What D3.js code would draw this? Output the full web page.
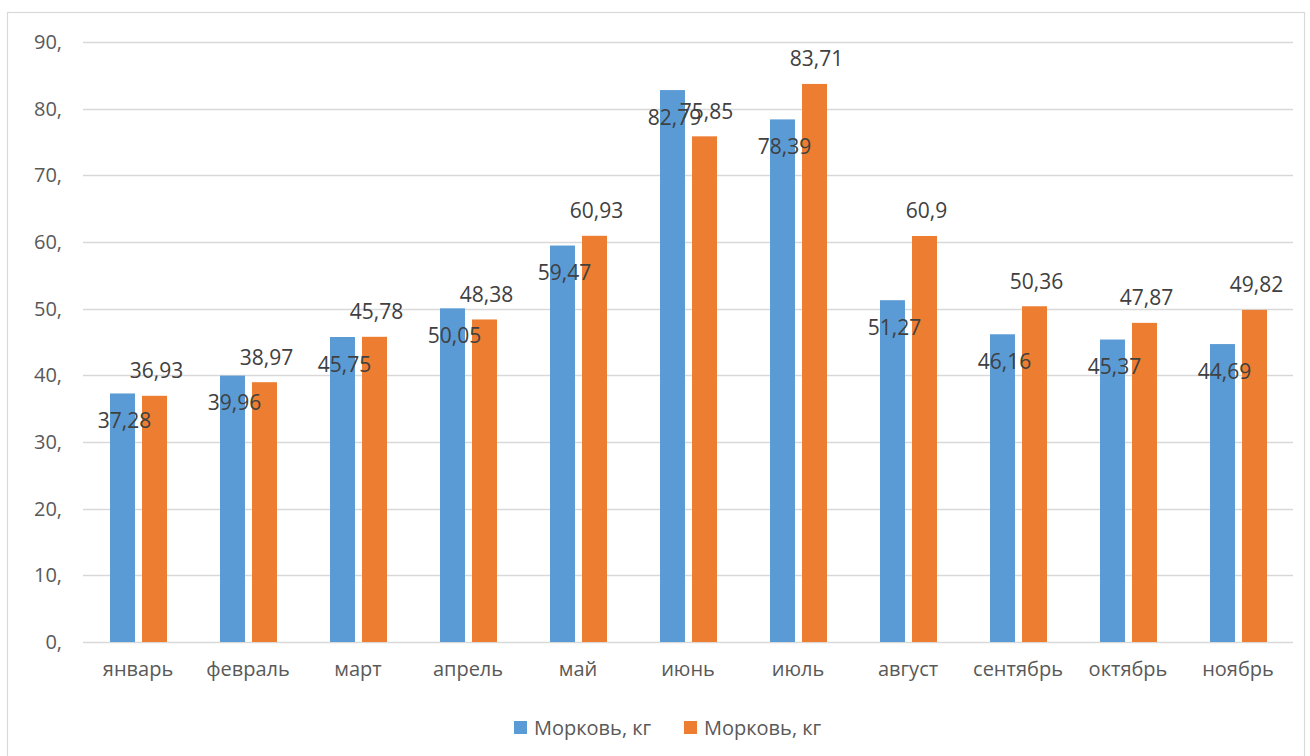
<!DOCTYPE html>
<html>
<head>
<meta charset="utf-8">
<script src="https://cdn.jsdelivr.net/npm/d3@7"></script>
<style>
  html, body { margin: 0; padding: 0; background: #fff; }
  svg { display: block; }
  text { font-family: "Open Sans", "Noto Sans", sans-serif; }
</style>
</head>
<body>
<svg id="chart" width="1310" height="756"></svg>
<script>
const categories = ["январь", "февраль", "март", "апрель", "май", "июнь", "июль", "август", "сентябрь", "октябрь", "ноябрь"];
const seriesNames = ["Морковь, кг", "Морковь, кг"];
const series1 = [37.28, 39.96, 45.75, 50.05, 59.47, 82.79, 78.39, 51.27, 46.16, 45.37, 44.69];
const series2 = [36.93, 38.97, 45.78, 48.38, 60.93, 75.85, 83.71, 60.9, 50.36, 47.87, 49.82];
const yTicks = [0, 10, 20, 30, 40, 50, 60, 70, 80, 90];
const colors = ["#5B9BD5", "#ED7D31"];

const svg = d3.select("#chart");
const W = 1310, H = 756;
const margin = { left: 83, right: 17, top: 42, bottom: 114 };
const plotW = W - margin.left - margin.right;
const plotH = H - margin.top - margin.bottom;

// chart area border
svg.append("rect")
  .attr("x", 7.5).attr("y", 12.5)
  .attr("width", 1297).attr("height", 760)
  .attr("fill", "#fff").attr("stroke", "#d9d9d9").attr("stroke-width", 1.2);

const g = svg.append("g").attr("transform", `translate(${margin.left},${margin.top})`);

const x0 = d3.scaleBand().domain(categories).range([0, plotW]).paddingInner(0).paddingOuter(0);
const x1 = d3.scaleBand().domain([0, 1]).range([27, x0.bandwidth() - 26]).paddingInner(0.22);
const y = d3.scaleLinear().domain([0, 90]).range([plotH, 0]);

// gridlines
g.append("g").selectAll("line").data(yTicks).join("line")
  .attr("x1", 0).attr("x2", plotW)
  .attr("y1", d => Math.round(y(d)) + 0.5).attr("y2", d => Math.round(y(d)) + 0.5)
  .attr("stroke", "#d9d9d9").attr("stroke-width", 1.3);

// y axis labels
const yAxis = d3.axisLeft(y).tickValues(yTicks).tickSize(0).tickPadding(21).tickFormat(d => d + ",");
const ya = g.append("g").call(yAxis);
ya.select(".domain").remove();
ya.selectAll("text")
  .attr("fill", "#595959").style("font-size", "20px")
  .style("font-family", '"Open Sans", "Noto Sans", sans-serif');

// x axis labels
const xAxis = d3.axisBottom(x0).tickSize(0).tickPadding(20);
const xa = g.append("g").attr("transform", `translate(0,${plotH})`).call(xAxis);
xa.select(".domain").remove();
xa.selectAll("text")
  .attr("fill", "#595959").style("font-size", "20px")
  .style("font-family", '"Open Sans", "Noto Sans", sans-serif');

const data = [series1, series2];

// bars
data.forEach((vals, si) => {
  g.append("g").selectAll("rect").data(vals).join("rect")
    .attr("x", (d, i) => x0(categories[i]) + x1(si))
    .attr("y", d => y(d))
    .attr("width", x1.bandwidth())
    .attr("height", d => plotH - y(d))
    .attr("fill", colors[si]);
});

// data labels: series 1 inside end, series 2 outside end
const fmt = v => String(v).replace(".", ",");
data.forEach((vals, si) => {
  g.append("g").selectAll("text").data(vals).join("text")
    .attr("x", (d, i) => x0(categories[i]) + x1(si) + x1.bandwidth() / 2 + 2)
    .attr("y", d => si === 0 ? y(d) + 27.5 : y(d) - 25)
    .attr("dy", "0.35em")
    .attr("text-anchor", "middle")
    .attr("fill", "#404040")
    .style("font-size", "21px")
    .text(d => fmt(d));
});

// legend
const legend = svg.append("g");
const legendItems = [{ x: 514, name: seriesNames[0], c: colors[0] }, { x: 684, name: seriesNames[1], c: colors[1] }];
legendItems.forEach(it => {
  legend.append("rect").attr("x", it.x).attr("y", 721).attr("width", 13).attr("height", 13).attr("fill", it.c);
  legend.append("text").attr("x", it.x + 20).attr("y", 728).attr("dy", "0.35em")
    .attr("fill", "#595959").style("font-size", "20px").text(it.name);
});
</script>
</body>
</html>
